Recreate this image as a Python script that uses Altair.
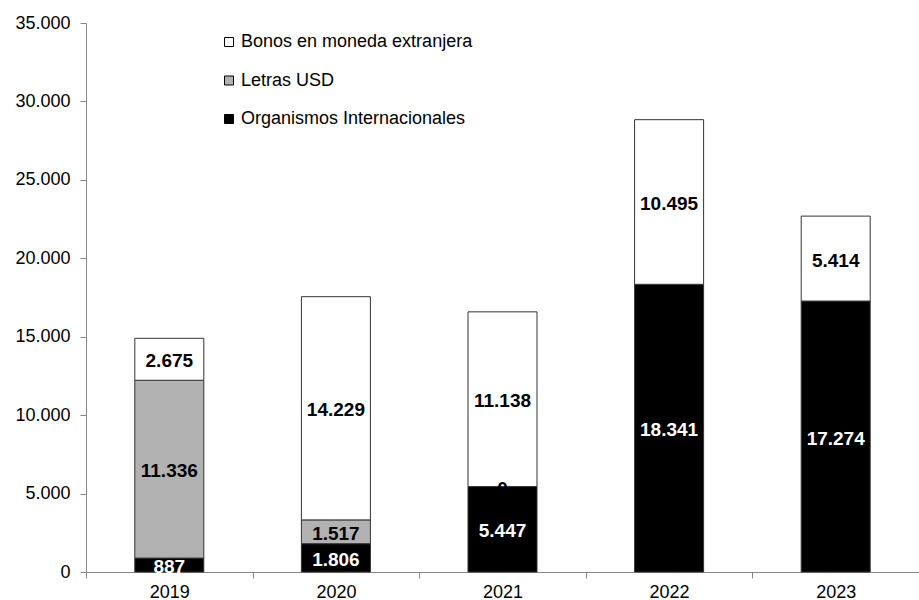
import altair as alt
import pandas as pd

years = ["2019", "2020", "2021", "2022", "2023"]
organismos = [887, 1806, 5447, 18341, 17274]
letras = [11336, 1517, 0, None, None]
bonos = [2675, 14229, 11138, 10495, 5414]

series_names = ["Organismos Internacionales", "Letras USD", "Bonos en moneda extranjera"]
legend_order = ["Bonos en moneda extranjera", "Letras USD", "Organismos Internacionales"]
colors = ["#ffffff", "#b2b2b2", "#000000"]

rows = []
for i, y in enumerate(years):
    base = 0
    for k, (name, vals) in enumerate(zip(series_names, [organismos, letras, bonos])):
        v = vals[i]
        if v is None:
            continue
        rows.append({
            "year": y, "serie": name, "value": v, "order": k,
            "start": base, "end": base + v, "mid": base + v / 2,
            "label": f"{v:,}".replace(",", "."),
            "tcolor": "white" if name == "Organismos Internacionales" else "black",
        })
        base += v
df = pd.DataFrame(rows)

FONT = "Liberation Sans"

x = alt.X("year:N", title=None, sort=years,
          scale=alt.Scale(paddingInner=0, paddingOuter=0),
          axis=alt.Axis(labelAngle=0, tickBand="extent", labelFontSize=18, labelFont=FONT,
                        labelColor="#000000", domainColor="#868686", tickColor="#868686",
                        tickSize=6, labelPadding=5))

bars = alt.Chart(df).mark_bar(size=69, stroke="#333333", strokeWidth=1).encode(
    x=x,
    y=alt.Y("start:Q", title=None,
            scale=alt.Scale(domain=[0, 35000], nice=False),
            axis=alt.Axis(values=list(range(0, 35001, 5000)), grid=False,
                          labelExpr="replace(format(datum.value, ','), ',', '.')",
                          labelFontSize=18, labelFont=FONT, labelColor="#000000",
                          domainColor="#868686", tickColor="#868686", tickSize=6,
                          labelPadding=10)),
    y2="end:Q",
    color=alt.Color("serie:N", sort=legend_order,
                    scale=alt.Scale(domain=legend_order, range=colors),
                    legend=alt.Legend(title=None, orient="none", legendX=134, legendY=10,
                                      padding=0,
                                      symbolType="square", symbolSize=81,
                                      symbolStrokeColor="#000000", symbolStrokeWidth=1,
                                      labelFontSize=18, labelFont=FONT, labelColor="#000000",
                                      labelLimit=0, rowPadding=20.5, labelOffset=3)),
    order=alt.Order("order:Q"),
)

texts = alt.Chart(df).mark_text(fontSize=19, fontWeight="bold", font=FONT, baseline="middle", dy=2).encode(
    x=alt.X("year:N", sort=years),
    y=alt.Y("mid:Q"),
    text="label:N",
    color=alt.Color("tcolor:N", scale=None),
)

chart = alt.layer(bars, texts).properties(
    width=833, height=549,
    autosize=alt.AutoSizeParams(type="none"),
    padding={"left": 86, "top": 23, "right": 0, "bottom": 28},
    background="white",
).configure_view(stroke=None)

chart.save("out.html", embed_options={"renderer": "svg", "actions": False})
